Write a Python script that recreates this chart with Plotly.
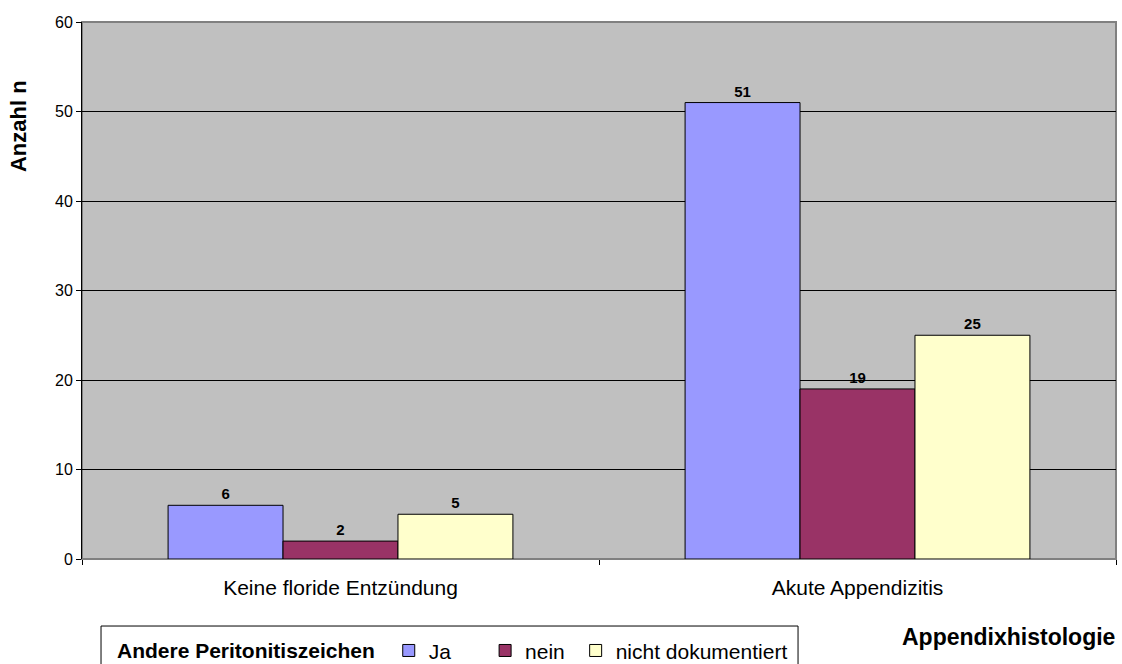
import plotly.graph_objects as go

# Histology categories and counts per "other peritonitis signs" group
categories = ["Keine floride Entzündung", "Akute Appendizitis"]
series_names = ["Ja" + "\u00a0" * 5, "nein" + "\u00a0", "nicht dokumentiert"]
values_ja = [6, 51]
values_nein = [2, 19]
values_nd = [5, 25]
y_ticks = [0, 10, 20, 30, 40, 50, 60]

colors = ["#9999FF", "#993366", "#FFFFCC"]
FONT = "Liberation Sans, Arial, sans-serif"

fig = go.Figure()
for name, vals, col in zip(series_names, [values_ja, values_nein, values_nd], colors):
    fig.add_trace(go.Bar(
        name=name,
        x=categories,
        y=vals,
        marker=dict(color=col, line=dict(color="black", width=1)),
        text=vals,
        texttemplate="<b>%{text}</b>",
        textposition="outside",
        textfont=dict(family=FONT, size=15, color="black"),
        cliponaxis=False,
    ))

fig.update_layout(
    width=1122,
    height=664,
    margin=dict(l=82, r=6, t=22, b=105, autoexpand=False),
    paper_bgcolor="white",
    plot_bgcolor="#C0C0C0",
    barmode="group",
    bargap=0.333,
    bargroupgap=0,
    font=dict(family=FONT, color="black"),
    showlegend=True,
    legend=dict(
        orientation="h",
        x=0.0319,
        xanchor="left",
        y=-0.171,
        yanchor="middle",
        bgcolor="rgba(0,0,0,0)",
        borderwidth=0,
        font=dict(family=FONT, size=21, color="black"),
        title=dict(text="<b>Andere Peritonitiszeichen</b>\u00a0", side="left",
                   font=dict(family=FONT, size=21, color="black")),
    ),
    xaxis=dict(
        showline=True,
        linecolor="#808080",
        linewidth=1,
        ticks="outside",
        tickson="boundaries",
        ticklen=5,
        tickcolor="black",
        ticklabelstandoff=10,
        tickfont=dict(family=FONT, size=21, color="black"),
        showgrid=False,
    ),
    yaxis=dict(
        range=[0, 60],
        tickvals=y_ticks,
        showline=True,
        linecolor="black",
        linewidth=1,
        ticks="outside",
        ticklen=5,
        tickcolor="black",
        tickfont=dict(family=FONT, size=16, color="black"),
        showgrid=True,
        gridcolor="black",
        gridwidth=1,
        zeroline=False,
    ),
    shapes=[
        # grey frame on top and right of the plotting area
        dict(type="rect", xref="paper", yref="paper", x0=0, x1=1, y0=0, y1=1,
             line=dict(color="#808080", width=2), fillcolor="rgba(0,0,0,0)", layer="below"),
        # legend frame
        dict(type="rect", xref="paper", yref="paper",
             x0=0.0184, x1=0.6925, y0=-0.1248, y1=-0.22,
             line=dict(color="black", width=1), fillcolor="rgba(0,0,0,0)"),
    ],
    annotations=[
        dict(text="<b>Anzahl n</b>", xref="paper", yref="paper", x=-0.062, y=0.806,
             xanchor="center", yanchor="middle", textangle=-90, showarrow=False,
             font=dict(family=FONT, size=22, color="black")),
        dict(text="<b>Appendixhistologie</b>", xref="paper", yref="paper", x=0.8965, y=-0.145,
             xanchor="center", yanchor="middle", showarrow=False,
             font=dict(family=FONT, size=23, color="black")),
    ],
)

fig.write_html("out.html")
